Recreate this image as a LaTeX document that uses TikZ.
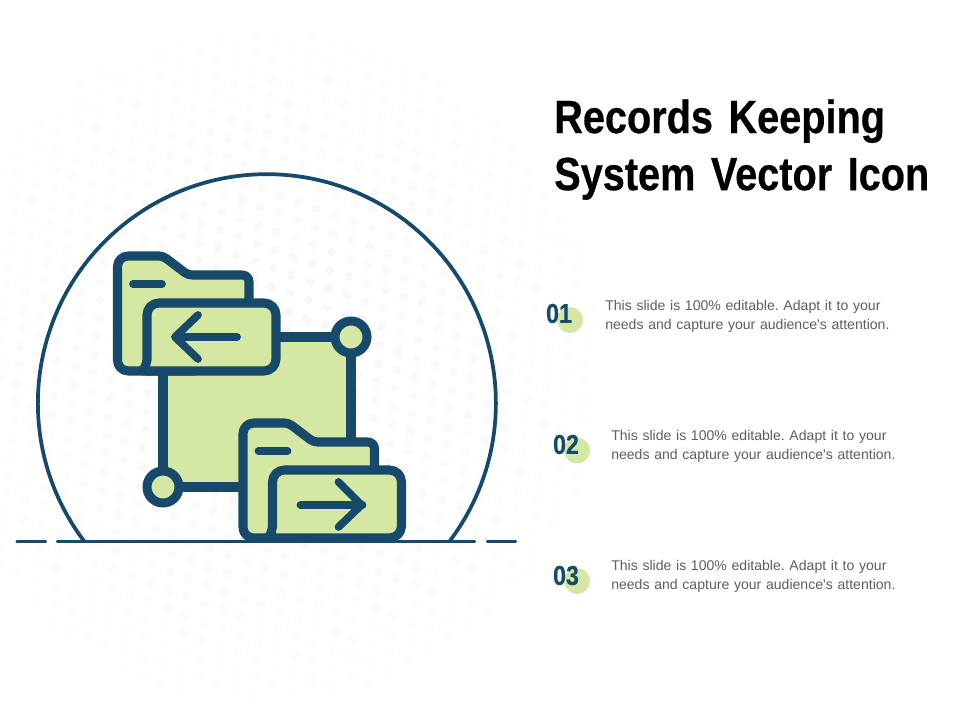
\documentclass[tikz,border=0pt]{standalone}
\usepackage{fontspec}
\newfontfamily\bodyfont{Liberation Sans}
\newfontfamily\narrowbold[FakeStretch=0.85,WordSpace=0.5,FakeBold=0.5]{Liberation Sans Bold}
\definecolor{navy}{HTML}{17496B}
\definecolor{leaf}{HTML}{D4E8A3}
\definecolor{bodygrey}{HTML}{5E5E5E}
\definecolor{dotgrey}{HTML}{F6F6F9}
\tikzset{
  thick icon/.style={draw=navy,line width=6.8pt,line join=round,line cap=round},
  arrow icon/.style={draw=navy,line width=5.8pt,line join=round,line cap=round},
  thin icon/.style={draw=navy,line width=2.8pt,line cap=round},
  ground icon/.style={draw=navy,line width=2.9pt,line cap=round},
  leaf fill/.style={fill=leaf},
  joint/.style={circle,draw=navy,fill=leaf,line width=6.75pt,minimum size=24pt,inner sep=0pt},
  badge/.style={circle,fill=leaf,minimum size=19.5pt,inner sep=0pt},
  numtext/.style={font=\narrowbold\fontsize{20.5}{20}\selectfont,text=navy,inner sep=0pt},
  bodytext/.style={font=\bodyfont\frenchspacing\fontsize{10.55}{14.25}\selectfont,text=bodygrey,anchor=north west,align=left,inner sep=0pt,text width=230pt},
  titletext/.style={font=\narrowbold\fontsize{35}{42.8}\selectfont,text=black,anchor=north west,align=left,inner sep=0pt,text width=320pt}
}
\newcommand{\folderbody}{%
  \path[thick icon,leaf fill,rounded corners=8pt] (117.5,371) -- (117.5,256) [rounded corners=3pt] -- (163,256) -- (188,275) [rounded corners=5pt] -- (249,275) -- (249,320) -- (200,371) [rounded corners=8pt] -- cycle;
  \draw[arrow icon] (133,284) -- (162,284);
  \path[thick icon,leaf fill,rounded corners=9pt] (147,360) -- (147,303) -- (276,303) -- (276,371) -- (135,371) [rounded corners=0pt] .. controls (143,369) and (146,366) .. (147,360) -- cycle;
}
\begin{document}
\begin{tikzpicture}[x=0.75pt,y=-0.75pt]
\useasboundingbox (0,0) rectangle (960,720);
\fill[white] (0,0) rectangle (960,720);
% faint background dots
\begin{scope}
\foreach \i in {-24,...,24}{\foreach \j in {-24,...,24}{
  \pgfmathsetmacro{\px}{265+\i*19.5*cos(20)-\j*19.5*sin(20)+\j*5}
  \pgfmathsetmacro{\py}{360+\i*19.5*sin(20)+\j*19.5*cos(20)}
  \pgfmathsetmacro{\dd}{veclen(\px-265,\py-365)}
  \pgfmathparse{\dd<335?1:0}
  \ifdim\pgfmathresult pt>0.5pt
    \pgfmathsetmacro{\op}{max(0.15,1-\dd/380)}
    \fill[dotgrey,opacity=\op] (\px,\py) circle[radius=4.5];
  \fi
}}
\end{scope}
% dome and ground
\coordinate (domeL) at (84,541);
\coordinate (domeR) at (450,541);
\coordinate (groundL) at (58,541.5);
\coordinate (groundR) at (474,541.5);
\coordinate (dashLa) at (17.5,541.5);
\coordinate (dashLb) at (45,541.5);
\coordinate (dashRa) at (488,541.5);
\coordinate (dashRb) at (515,541.5);
\draw[thin icon] (domeL) arc[start angle=143,end angle=397,radius=229];
\draw[ground icon] (groundL) -- (groundR);
\draw[ground icon] (dashLa) -- (dashLb);
\draw[ground icon] (dashRa) -- (dashRb);
% linked square
\coordinate (sqTL) at (163,337);
\coordinate (sqTR) at (351,337);
\coordinate (sqBR) at (351,487);
\coordinate (sqBL) at (163,487);
\path[thick icon,leaf fill,line cap=butt] (sqTL) -- (sqTR) -- (sqBR) -- (sqBL) -- cycle;
\node[joint] (jointTR) at (sqTR) {};
\node[joint] (jointBL) at (sqBL) {};
% upper folder
\folderbody
\draw[arrow icon] (237,337) -- (176,337);
\draw[arrow icon] (198,315) -- (175,337) -- (198,359);
% lower folder
\begin{scope}[shift={(125.5,167)}]
\folderbody
\draw[arrow icon] (175,338) -- (237,338);
\draw[arrow icon] (213,315) -- (236,338) -- (213,360);
\end{scope}
% title
\node[titletext] (title) at (554,99) {Records Keeping\\System Vector Icon};
% list
\node[badge] (b1) at (570,320) {};
\node[numtext] (n1) at (559,313.5) {01};
\node[bodytext] (t1) at (605,300) {This slide is 100\% editable. Adapt it to your\\needs and capture your audience's attention.};
\node[badge] (b2) at (577,450.5) {};
\node[numtext] (n2) at (566,444.5) {02};
\node[bodytext] (t2) at (611,430) {This slide is 100\% editable. Adapt it to your\\needs and capture your audience's attention.};
\node[badge] (b3) at (577,581) {};
\node[numtext] (n3) at (566,575.5) {03};
\node[bodytext] (t3) at (611,560) {This slide is 100\% editable. Adapt it to your\\needs and capture your audience's attention.};
\end{tikzpicture}
\end{document}
